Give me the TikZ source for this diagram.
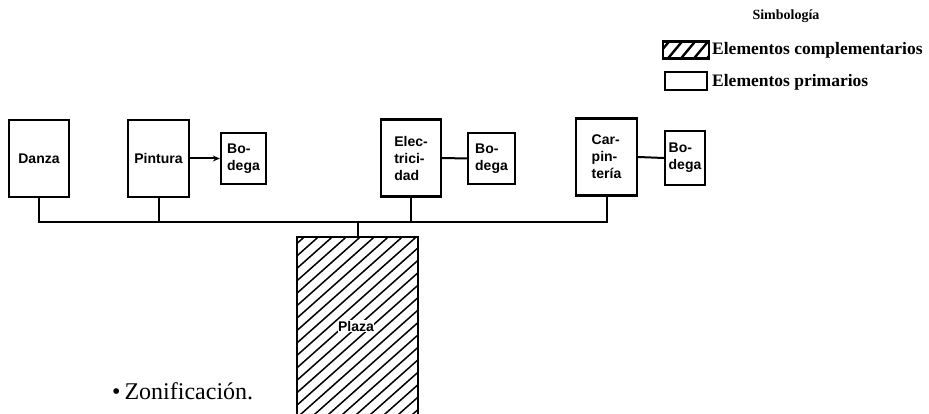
\documentclass[tikz,border=0pt]{standalone}
\usepackage{fontspec}
\setmainfont{Liberation Serif}
\newfontfamily\lsans{Liberation Sans}
\usetikzlibrary{arrows.meta}
\tikzset{
  box/.style={draw,line width=2.3pt,inner sep=0pt,font=\lsans\bfseries\fontsize{14}{17}\selectfont,align=left},
  prim/.style={box,minimum width=60pt,minimum height=77pt},
  bod/.style={box,minimum width=46pt,minimum height=51pt},
  conn/.style={line width=2pt},
  hatch/.style={line width=1.5pt},
}
\begin{document}
\begin{tikzpicture}[x=1pt,y=-1pt]
\useasboundingbox[fill=white] (0,0) rectangle (929,414);
\clip (0,0) rectangle (929,414);
% primary boxes
\node[prim] (danza) at (39,158.5) {Danza};
\node[prim,minimum width=61pt] (pintura) at (158.5,158.5) {Pintura};
\node[bod,minimum width=45pt] (bod1) at (243.5,158.5) {Bo-\\dega};
\node[prim] (elec) at (411,158) {Elec-\\trici-\\dad};
\node[bod,minimum width=47pt] (bod2) at (491.5,158.5) {Bo-\\dega};
\node[prim,minimum width=61pt] (car) at (606.5,157) {Car-\\pin-\\tería};
\node[bod,minimum width=40pt,minimum height=54pt] (bod3) at (685,158) {Bo-\\dega};
% plaza
\node[draw,line width=2.3pt,minimum width=121pt,minimum height=190pt,inner sep=0pt] (plaza) at (357.5,332) {};
\begin{scope}
\clip (297,237) rectangle (418,430);
\foreach \k in {-20,...,10}{
  \draw[hatch] (297+\k*14,430) -- ++(260,-231);
}
\end{scope}
\draw[line width=2.3pt] (297,420) -- (297,237) -- (418,237) -- (418,420);
\node[fill=white,inner sep=0.5pt,font=\lsans\bfseries\fontsize{14}{17}\selectfont] (plazalbl) at (356,326) {Plaza};
% bus
\coordinate (busL) at (39,222);
\draw[conn] (danza.south) -- (busL) -| (car.south);
\draw[conn] (pintura.south) -- (pintura.south |- busL);
\draw[conn] (elec.south) -- (elec.south |- busL);
\draw[conn] (plaza.north) -- (plaza.north |- busL);
% side links
\draw[conn,-{Stealth[length=7pt,width=6pt]}] (pintura.east) -- (bod1.west);
\draw[conn] (elec.east) -- (bod2.west);
\draw[conn] (car.east) -- (bod3.west);
% legend
\node[font=\bfseries\fontsize{14}{17}\selectfont] (simb) at (786,16) {Simbología};
\node[draw,line width=2.2pt,minimum width=46pt,minimum height=17pt,inner sep=0pt] (lh) at (686,50) {};
\begin{scope}
\clip (663,41.5) rectangle (709,58.5);
\foreach \k in {0,...,4}{
  \draw[line width=2.4pt] (652+\k*13,62) -- ++(20,-24);
}
\end{scope}
\node[draw,line width=2.2pt,minimum width=42pt,minimum height=18pt,inner sep=0pt] (lp) at (686,81) {};
\node[anchor=west,inner sep=0pt,font=\bfseries\fontsize{17.5}{20}\selectfont] (lht) at (712,50) {Elementos complementarios};
\node[anchor=west,inner sep=0pt,font=\bfseries\fontsize{17.5}{20}\selectfont] (lpt) at (712,82) {Elementos primarios};
% caption
\node[anchor=west,inner sep=0pt,font=\fontsize{24}{26}\selectfont] (zon) at (112,391) {\textbullet\,Zonificación.};
\end{tikzpicture}
\end{document}
